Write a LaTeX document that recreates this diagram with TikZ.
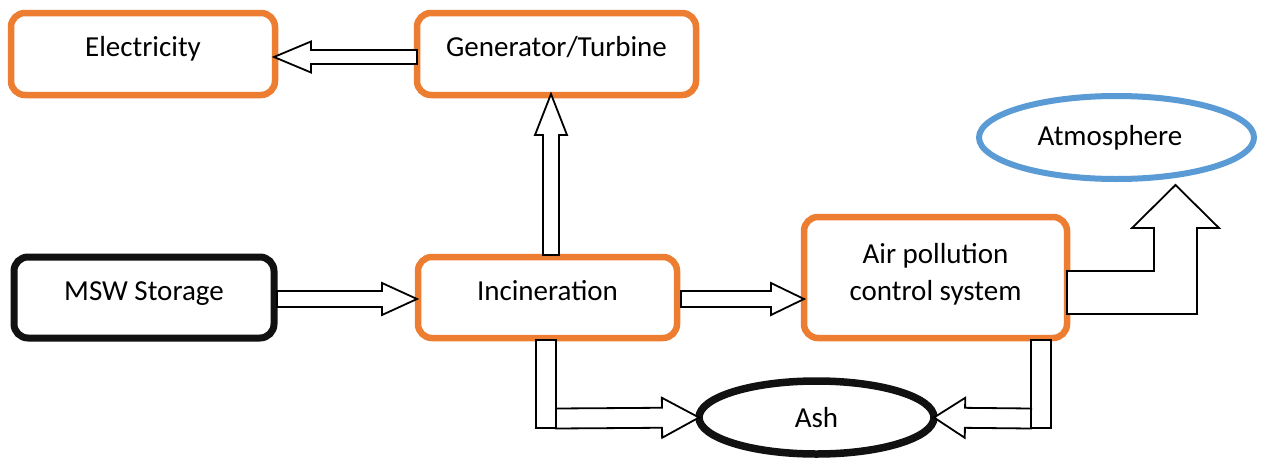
\documentclass[tikz,border=0pt]{standalone}
\usepackage{fontspec}
\setmainfont{Carlito}
\usetikzlibrary{calc,shapes.geometric}

\definecolor{boxorange}{HTML}{ED7D31}
\definecolor{skyblue}{HTML}{5B9BD5}
\definecolor{inkblack}{HTML}{111111}
\newcommand\labelsize{\fontsize{29}{37}\selectfont}

\tikzset{
  % block arrow geometry: half shaft width, half head width, head length
  ba shaft/.store in=\bashaft, ba head/.store in=\bahead, ba len/.store in=\balen,
  ba shaft=8, ba head=16, ba len=35,
  blockline/.style={draw=black, line width=1.8pt, fill=white, line join=miter},
  blockarrow/.style={blockline, to path={
      ($(\tikztotarget)!\balen pt!(\tikztostart)$) coordinate (ba-h)
      ($(\tikztostart)!\bashaft pt!90:(ba-h)$)
      -- ($(ba-h)!\bashaft pt!-90:(\tikztostart)$)
      -- ($(ba-h)!\bahead pt!-90:(\tikztostart)$)
      -- (\tikztotarget)
      -- ($(ba-h)!\bahead pt!90:(\tikztostart)$)
      -- ($(ba-h)!\bashaft pt!90:(\tikztostart)$)
      -- ($(\tikztostart)!\bashaft pt!-90:(ba-h)$)
      -- cycle}},
  box/.style={rectangle, draw, rounded corners=14pt, line width=6.5pt,
    inner sep=0pt, outer sep=0pt, font=\labelsize,
    text height=17pt, text depth=12pt},
  obox/.style={box, draw=boxorange},
  kbox/.style={box, draw=inkblack, line width=7pt},
  oval/.style={ellipse, draw, inner sep=0pt, outer sep=0pt, font=\labelsize},
  txt/.style={font=\labelsize, inner sep=0pt, align=center},
}

\begin{document}
\begin{tikzpicture}[x=1pt, y=-1pt]
  \fill[white] (0,0) rectangle (1261,458);
  \useasboundingbox (0,0) rectangle (1261,458);

  % process boxes
  \node[obox, minimum width=264pt, minimum height=82pt] (elec) at (143,54) {Electricity};
  \node[obox, minimum width=279pt, minimum height=82pt] (gen) at (556.5,54) {Generator/Turbine};
  \node[kbox, minimum width=260pt, minimum height=81pt] (msw) at (144,297.5) {MSW Storage};
  \node[obox, minimum width=259pt, minimum height=81pt] (incin) at (547.5,297.5) {Incineration};
  \node[obox, minimum width=263pt, minimum height=121pt] (air) at (935.5,277.5) {};
  % the base anchor of a two-line label sits on its last line
  \node[txt, anchor=base] (airtext) at (935.5,300) {Air pollution\\control system};

  % end products
  \node[oval, draw=skyblue, line width=6pt, minimum width=275pt, minimum height=83pt,
        text height=20pt, text depth=5pt] (atm) at (1116.5,137.5) {Atmosphere\kern13pt};
  \node[oval, draw=inkblack, line width=7.5pt, minimum width=235pt, minimum height=73pt,
        text height=20pt, text depth=1pt] (ash) at (816.5,417.5) {Ash};

  % arrow end points
  \coordinate (genout) at ($(gen.west)+(0,3)$);
  \coordinate (elecin) at ($(elec.east)+(-1,3)$);
  \coordinate (incup)  at ($(incin.north)+(3.5,-2)$);
  \coordinate (genin)  at ($(gen.south)+(-5.5,-1)$);
  \coordinate (mswout) at ($(msw.east)+(3,1.5)$);
  \coordinate (incin-w) at ($(incin.west)+(-1,1.5)$);
  \coordinate (incout) at ($(incin.east)+(4,1.5)$);
  \coordinate (airin)  at ($(air.west |- incin.east)+(0,1.5)$);
  \coordinate (incdrop) at ($(incin.south)+(-11.5,2)$);
  \coordinate (airdrop) at ($(air.south east)+(-36,2)$);

  % straight block arrows
  \draw[blockarrow, ba shaft=7, ba head=15.5, ba len=37] (genout) to (elecin);
  \draw[blockarrow, ba shaft=8, ba head=16, ba len=41] (incup) to (genin);
  \draw[blockarrow, ba shaft=8, ba head=16, ba len=35] (mswout) to (incin-w);
  \draw[blockarrow, ba shaft=8, ba head=16, ba len=33] (incout) to (airin);

  % bent arrow up to the atmosphere
  \draw[blockline] ($(air.east)+(0,-6.5)$) -- ++(87,0) -- ++(0,-43) -- ++(-22,0)
    -- ++(43.5,-43) -- ++(43.5,43) -- ++(-22,0) -- ++(0,86) -- ++(-130,0) -- cycle;

  % drops into the ash
  \draw[blockline] (incdrop) rectangle ++(20,88);
  \coordinate (incturn) at ($(incdrop)+(20,78.5)$);
  \draw[blockarrow, ba shaft=10, ba head=20, ba len=37] (incturn) to (ash.west);

  \draw[blockline] (airdrop) rectangle ++(20,88);
  \coordinate (airturn) at ($(airdrop)+(0,78.5)$);
  \draw[blockarrow, ba shaft=10, ba head=20, ba len=31] (airturn) to (ash.east);
\end{tikzpicture}
\end{document}
